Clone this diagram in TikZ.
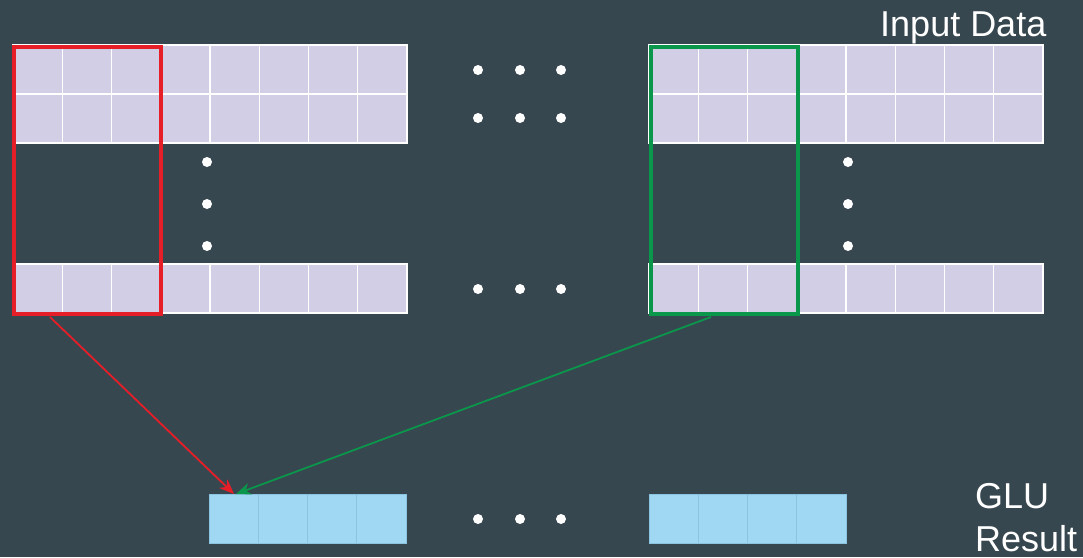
\documentclass[tikz,border=0pt]{standalone}
\usepackage{fontspec}
\setmainfont{Liberation Sans}
\usetikzlibrary{arrows.meta}
\definecolor{bg}{RGB}{55,71,79}
\definecolor{cellc}{RGB}{209,206,230}
\definecolor{resc}{RGB}{160,216,244}
\definecolor{resline}{RGB}{140,195,225}
\definecolor{redc}{RGB}{230,30,40}
\definecolor{greenc}{RGB}{10,150,75}
\tikzset{
  cell/.style={draw=white, line width=1.2pt, fill=cellc},
  rescell/.style={draw=resline, line width=1pt, fill=resc},
  dot/.style={circle, fill=white, inner sep=0pt, minimum size=10pt},
  selbox/.style={draw, line width=3.5pt, rectangle, inner sep=0pt},
  label/.style={text=white, font=\fontsize{36}{42}\selectfont, inner sep=0pt},
  conn/.style={line width=1.8pt, -{Stealth[length=15pt,width=12pt]}}
}
\begin{document}
\begin{tikzpicture}[x=1pt,y=-1pt]
\fill[bg] (0,0) rectangle (1083,557);
\useasboundingbox (0,0) rectangle (1083,557);
% input grids
\foreach \x in {13,649}{
  \foreach \i in {0,...,7}{
    \draw[cell] ({\x+\i*49.25},45) rectangle ({\x+(\i+1)*49.25},94);
    \draw[cell] ({\x+\i*49.25},94) rectangle ({\x+(\i+1)*49.25},143);
    \draw[cell] ({\x+\i*49.25},264) rectangle ({\x+(\i+1)*49.25},313);
  }
}
% dots
\foreach \y in {70,118,289,519}{
  \foreach \x in {478,520,561}{ \node[dot] at (\x,\y) {}; }
}
\foreach \y in {162,204,246}{
  \node[dot] at (207,\y) {};
  \node[dot] at (848,\y) {};
}
% result cells
\foreach \x in {209,649}{
  \foreach \i in {0,...,3}{
    \draw[rescell] ({\x+\i*49.25},494) rectangle ({\x+(\i+1)*49.25},543);
  }
}
\node[inner sep=0pt, minimum width=197pt, minimum height=49pt, anchor=north west] (res) at (209,494) {};
% selection boxes
\node[selbox, draw=redc, minimum width=147pt, minimum height=267pt, anchor=north west] (redbox) at (12,45) {};
\node[selbox, draw=greenc, minimum width=147pt, minimum height=267pt, anchor=north west] (greenbox) at (649,45) {};
\coordinate (rstart) at ([xshift=38pt,yshift=-1.5pt]redbox.south west);
\coordinate (gstart) at ([xshift=62pt,yshift=-1.5pt]greenbox.south west);
\coordinate (rend) at ([xshift=25pt]res.north west);
\coordinate (gend) at ([xshift=27pt]res.north west);
\draw[conn, redc] (rstart) -- (rend);
\draw[conn, greenc] (gstart) -- (gend);
% labels
\node[label, anchor=base west] (inp) at (880,36) {Input Data};
\node[label, anchor=base west] (glu) at (975,508) {GLU};
\node[label, anchor=base west] (result) at (975,551) {Result};
\end{tikzpicture}
\end{document}
